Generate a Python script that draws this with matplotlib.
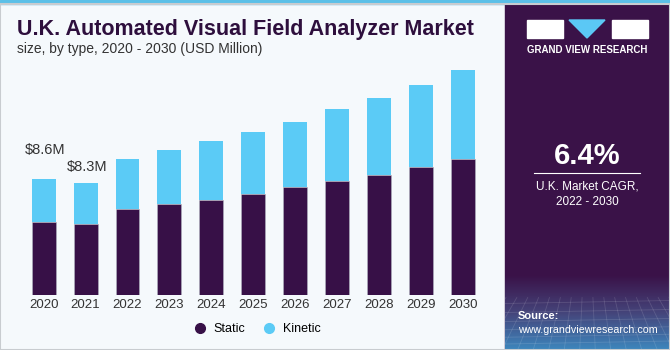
import numpy as np
import matplotlib
matplotlib.use('Agg')
import matplotlib.pyplot as plt
from matplotlib.patches import Rectangle, Polygon
from matplotlib.lines import Line2D

# datos (USD millones)
years = ['2020', '2021', '2022', '2023', '2024', '2025', '2026', '2027', '2028', '2029', '2030']
static = [5.43, 5.26, 6.35, 6.75, 7.07, 7.49, 7.98, 8.45, 8.90, 9.47, 10.06]
kinetic = [3.17, 3.04, 3.75, 3.98, 4.35, 4.57, 4.87, 5.32, 5.73, 6.12, 6.64]
labels = {0: '$8.6M', 1: '$8.3M'}

c_static = '#371047'
c_kinetic = '#5BCBF6'
c_panel = '#3A1248'
bg = '#F5F9FC'

W, H = 670, 350
fig = plt.figure(figsize=(6.7, 3.5), dpi=100)
fig.patch.set_facecolor(bg)

def px(x, y):
    # pixel (desde arriba) -> fraccion de figura
    return x / W, 1 - y / H

# franja superior y panel derecho
fig.patches.append(Rectangle((0, 1 - 4 / H), 1, 4 / H, transform=fig.transFigure,
                             color='#5BC0E8', zorder=0))
fig.patches.append(Rectangle((505 / W, 0), 165 / W, 1 - 4 / H, transform=fig.transFigure,
                             color=c_panel, zorder=0))
# degradado inferior del panel
grad = fig.add_axes([505 / W, 0, 165 / W, 75 / H], zorder=1)
g = np.linspace(0, 1, 100)[:, None]
cmap = matplotlib.colors.LinearSegmentedColormap.from_list('g', [c_panel, '#45447a', '#3d86bd'])
grad.imshow(g, aspect='auto', cmap=cmap, origin='upper', extent=[0, 1, 0, 1])
for k in np.linspace(-0.3, 1.3, 18):
    grad.plot([0.5 + (k - 0.5) * 0.7, k], [0.7, 0], color='white', alpha=0.13, lw=0.6)
for k in [0.62, 0.5, 0.38, 0.27, 0.17, 0.08]:
    grad.plot([0, 1], [k, k + 0.04], color='white', alpha=0.13, lw=0.6)
grad.set_xlim(0, 1)
grad.set_ylim(0, 1)
grad.axis('off')

# borde gris
fig.patches.append(Rectangle((0, 0), 1, 1 - 4 / H, transform=fig.transFigure,
                             fill=False, ec='#C8CCD0', lw=1.5, zorder=5))

# logo
lx, ly = 527, 20
fig.patches.append(Rectangle(px(lx, ly + 18), 36 / W, 18 / H, transform=fig.transFigure,
                             color='white', zorder=2))
fig.patches.append(Polygon([px(lx + 42, ly), px(lx + 78, ly), px(lx + 60, ly + 18)],
                           transform=fig.transFigure, color='#5BC8F5', zorder=2))
fig.patches.append(Rectangle(px(lx + 85, ly + 18), 36 / W, 18 / H, transform=fig.transFigure,
                             color='white', zorder=2))
fig.text(*px(lx + 60, 50), 'GRAND VIEW RESEARCH', color='white', fontsize=7,
         fontweight='bold', ha='center', va='center', family='Liberation Sans')

# CAGR
fig.text(*px(587, 156), '6.4%', color='white', fontsize=21, fontweight='bold',
         ha='center', va='center', family='Liberation Sans')
fig.lines.append(Line2D([534 / W, 640 / W], [1 - 173 / H] * 2, transform=fig.transFigure,
                        color='white', lw=0.8))
fig.text(*px(587, 194), 'U.K. Market CAGR,\n2022 - 2030', color='white', fontsize=8.5,
         ha='center', va='center', linespacing=1.4, family='Liberation Sans')
fig.text(*px(518, 316), 'Source:', color='white', fontsize=8, fontweight='bold',
         ha='left', va='center', family='Liberation Sans', zorder=3)
fig.text(*px(518, 330), 'www.grandviewresearch.com', color='white', fontsize=7.7,
         ha='left', va='center', family='Liberation Sans', zorder=3)

# titulos
fig.text(*px(17, 29), 'U.K. Automated Visual Field Analyzer Market', color='#2E0F3D',
         fontsize=15.5, fontweight='bold', ha='left', va='center', family='Liberation Sans')
fig.text(*px(17, 49), 'size, by type, 2020 - 2030 (USD Million)', color='#333333',
         fontsize=10, ha='left', va='center', family='Liberation Sans')

# grafico de barras
x = np.arange(len(years))
ax = fig.add_axes([20.7 / W, 55 / H, 464.9 / W, 18 * 13.49 / H])
ax.set_facecolor('none')
ax.bar(x, static, width=0.57, color=c_static, edgecolor='#B0B4C0', linewidth=0.4, label='Static')
ax.bar(x, kinetic, width=0.57, bottom=static, color=c_kinetic, label='Kinetic')
offs = {0: 2.15, 1: 1.2}
for i, t in labels.items():
    tot = static[i] + kinetic[i]
    ax.text(x[i] - 0.45, tot + offs[i], t, fontsize=10.5,
            color='#333333', ha='left', va='center', family='Liberation Sans')
ax.set_xlim(-0.55, 10.55)
ax.set_ylim(0, 18)
ax.set_xticks(x)
ax.set_xticklabels(years, fontsize=9.5, color='#333333', family='Liberation Sans')
ax.tick_params(axis='x', length=0, pad=3)
ax.set_yticks([])
for s in ax.spines.values():
    s.set_visible(False)

leg = fig.legend(handles=[Line2D([], [], marker='o', ls='', color=c_static, markersize=7, label='Static'),
                          Line2D([], [], marker='o', ls='', color=c_kinetic, markersize=7, label='Kinetic')],
                 loc='center', bbox_to_anchor=px(254, 329), ncol=2, frameon=False,
                 handletextpad=0.1, columnspacing=0.9,
                 prop={'family': 'Liberation Sans', 'size': 9})

fig.savefig('out.png', dpi=100, facecolor=fig.get_facecolor())
